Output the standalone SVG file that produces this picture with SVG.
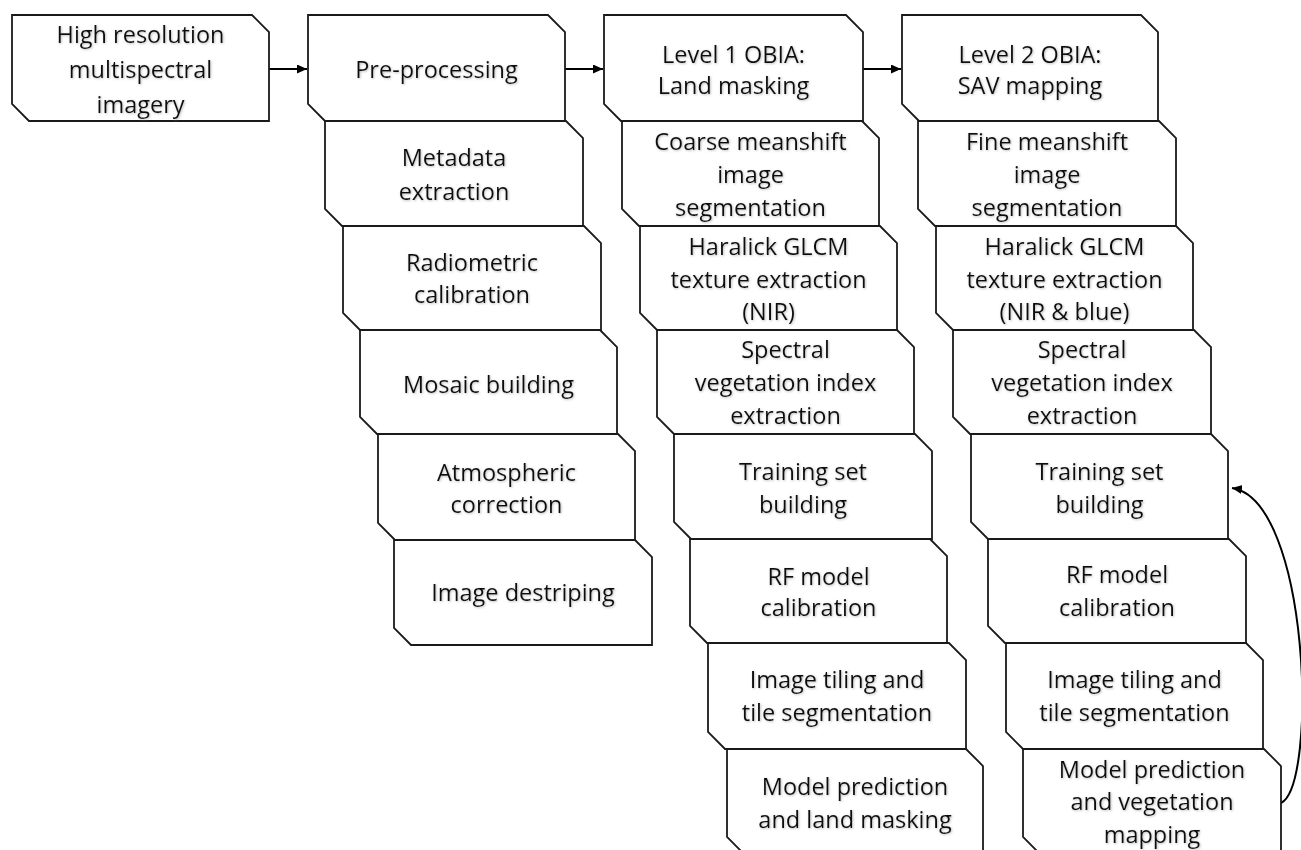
<svg xmlns="http://www.w3.org/2000/svg" width="1301" height="850" viewBox="0 0 1301 850">
<style>
.box{fill:#fff;stroke:#1a1a1a;stroke-width:1.8;stroke-linejoin:miter}
.t{font-family:"Open Sans","Noto Sans",sans-serif;font-size:23.5px;fill:#111;text-anchor:middle;filter:url(#sh)}
.c{fill:none;stroke:#000;stroke-width:2}
</style>
<defs>
<marker id="ah" markerUnits="userSpaceOnUse" markerWidth="11" markerHeight="10" refX="10" refY="4.5" orient="auto">
<path d="M0,0 L10,4.5 L0,9 z" fill="#000"/>
</marker>
<filter id="sh" x="-5%" y="-20%" width="110%" height="140%">
<feDropShadow dx="0.8" dy="0.8" stdDeviation="0.8" flood-color="#888" flood-opacity="0.6"/>
</filter>
</defs>
<rect width="1301" height="850" fill="#fff"/>

<g id="connectors">
<line class="c" x1="269" y1="69" x2="307" y2="69" marker-end="url(#ah)"/>
<line class="c" x1="565" y1="69" x2="603" y2="69" marker-end="url(#ah)"/>
<line class="c" x1="863" y1="69" x2="901" y2="69" marker-end="url(#ah)"/>
<path class="c" d="M1281,803 C1318,785 1310,500 1232,488" marker-end="url(#ah)"/>
</g>

<g id="n-input"><path class="box" d="M12,15 H252 L269,32 V121 H29 L12,104 Z"/>
<text class="t" x="140.5" y="43">High resolution</text><text class="t" x="140.5" y="78">multispectral</text><text class="t" x="140.5" y="113">imagery</text></g>

<g id="n-pre"><path class="box" d="M308,15 H548 L565,32 V121 H325 L308,104 Z"/>
<text class="t" x="436.5" y="78">Pre-processing</text></g>
<g id="n-meta"><path class="box" d="M325,121 H566 L583,138 V226 H342 L325,209 Z"/>
<text class="t" x="454" y="166">Metadata</text><text class="t" x="454" y="200">extraction</text></g>
<g id="n-radio"><path class="box" d="M343,226 H584 L601,243 V330 H360 L343,313 Z"/>
<text class="t" x="472" y="271">Radiometric</text><text class="t" x="472" y="303">calibration</text></g>
<g id="n-mosaic"><path class="box" d="M360,330 H600 L617,347 V434 H377 L360,417 Z"/>
<text class="t" x="488.5" y="393">Mosaic building</text></g>
<g id="n-atmo"><path class="box" d="M378,434 H618 L635,451 V540 H395 L378,523 Z"/>
<text class="t" x="506.5" y="481">Atmospheric</text><text class="t" x="506.5" y="513">correction</text></g>
<g id="n-destripe"><path class="box" d="M394,540 H635 L652,557 V645 H411 L394,628 Z"/>
<text class="t" x="523" y="601">Image destriping</text></g>

<g id="n-l1"><path class="box" d="M604,15 H846 L863,32 V121 H621 L604,104 Z"/>
<text class="t" x="733.5" y="63">Level 1 OBIA:</text><text class="t" x="733.5" y="94">Land masking</text></g>
<g id="n-l1-seg"><path class="box" d="M622,121 H862 L879,138 V226 H639 L622,209 Z"/>
<text class="t" x="750.5" y="150">Coarse meanshift</text><text class="t" x="750.5" y="183">image</text><text class="t" x="750.5" y="216">segmentation</text></g>
<g id="n-l1-glcm"><path class="box" d="M640,226 H880 L897,243 V330 H657 L640,313 Z"/>
<text class="t" x="768.5" y="255">Haralick GLCM</text><text class="t" x="768.5" y="288">texture extraction</text><text class="t" x="768.5" y="320">(NIR)</text></g>
<g id="n-l1-svi"><path class="box" d="M657,330 H897 L914,347 V434 H674 L657,417 Z"/>
<text class="t" x="785.5" y="358">Spectral</text><text class="t" x="785.5" y="391">vegetation index</text><text class="t" x="785.5" y="424">extraction</text></g>
<g id="n-l1-train"><path class="box" d="M674,434 H915 L932,451 V539 H691 L674,522 Z"/>
<text class="t" x="803" y="480">Training set</text><text class="t" x="803" y="513">building</text></g>
<g id="n-l1-rf"><path class="box" d="M690,539 H930 L947,556 V643 H707 L690,626 Z"/>
<text class="t" x="818.5" y="585">RF model</text><text class="t" x="818.5" y="616">calibration</text></g>
<g id="n-l1-tile"><path class="box" d="M708,643 H949 L966,660 V749 H725 L708,732 Z"/>
<text class="t" x="837" y="688">Image tiling and</text><text class="t" x="837" y="721">tile segmentation</text></g>
<g id="n-l1-pred"><path class="box" d="M727,749 H966 L983,766 V854 H744 L727,837 Z"/>
<text class="t" x="855" y="795">Model prediction</text><text class="t" x="855" y="828">and land masking</text></g>

<g id="n-l2"><path class="box" d="M902,15 H1141 L1158,32 V121 H919 L902,104 Z"/>
<text class="t" x="1030" y="63">Level 2 OBIA:</text><text class="t" x="1030" y="94">SAV mapping</text></g>
<g id="n-l2-seg"><path class="box" d="M918,121 H1159 L1176,138 V226 H935 L918,209 Z"/>
<text class="t" x="1047" y="150">Fine meanshift</text><text class="t" x="1047" y="183">image</text><text class="t" x="1047" y="216">segmentation</text></g>
<g id="n-l2-glcm"><path class="box" d="M936,226 H1176 L1193,243 V330 H953 L936,313 Z"/>
<text class="t" x="1064.5" y="255">Haralick GLCM</text><text class="t" x="1064.5" y="288">texture extraction</text><text class="t" x="1064.5" y="320">(NIR &amp; blue)</text></g>
<g id="n-l2-svi"><path class="box" d="M953,330 H1194 L1211,347 V434 H970 L953,417 Z"/>
<text class="t" x="1082" y="358">Spectral</text><text class="t" x="1082" y="391">vegetation index</text><text class="t" x="1082" y="424">extraction</text></g>
<g id="n-l2-train"><path class="box" d="M971,434 H1211 L1228,451 V539 H988 L971,522 Z"/>
<text class="t" x="1099.5" y="480">Training set</text><text class="t" x="1099.5" y="513">building</text></g>
<g id="n-l2-rf"><path class="box" d="M988,539 H1229 L1246,556 V643 H1005 L988,626 Z"/>
<text class="t" x="1117" y="583">RF model</text><text class="t" x="1117" y="616">calibration</text></g>
<g id="n-l2-tile"><path class="box" d="M1006,643 H1246 L1263,660 V749 H1023 L1006,732 Z"/>
<text class="t" x="1134.5" y="688">Image tiling and</text><text class="t" x="1134.5" y="721">tile segmentation</text></g>
<g id="n-l2-pred"><path class="box" d="M1023,749 H1264 L1281,766 V854 H1040 L1023,837 Z"/>
<text class="t" x="1152" y="778">Model prediction</text><text class="t" x="1152" y="810">and vegetation</text><text class="t" x="1152" y="843">mapping</text></g>
</svg>
